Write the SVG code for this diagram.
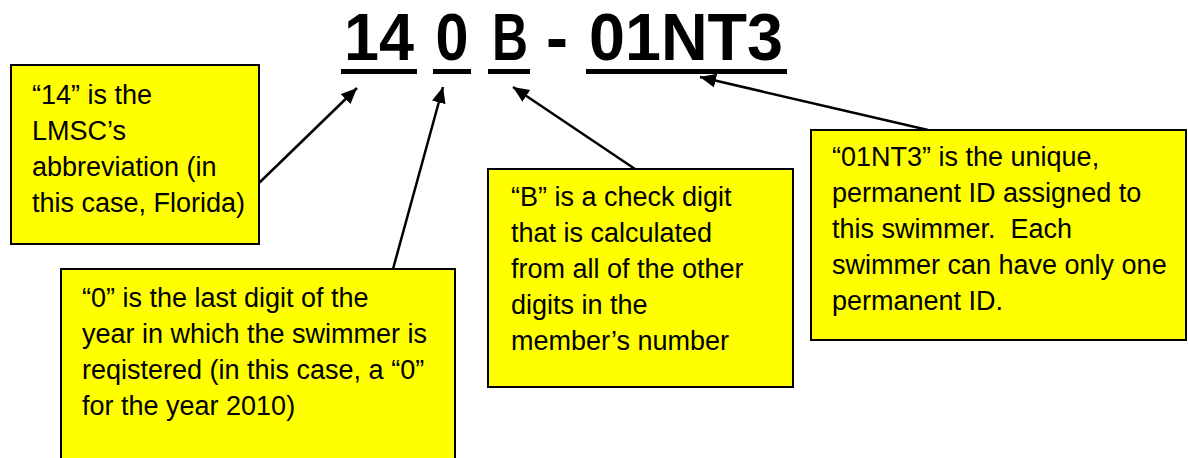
<svg xmlns="http://www.w3.org/2000/svg" width="1188" height="458" viewBox="0 0 1188 458">
  <style>
    .box { fill: #FFFF00; stroke: #000; stroke-width: 2; }
    .t { font-family: "Liberation Sans", Arial, sans-serif; font-size: 27px; fill: #000; white-space: pre; }
    .title { font-family: "Liberation Sans", Arial, sans-serif; font-size: 66px; font-weight: bold; fill: #000; text-anchor: middle; }
    .ul { fill: #000; }
    .conn { stroke: #000; stroke-width: 2.5; fill: none; marker-end: url(#arrow); }
  </style>
  <defs>
    <marker id="arrow" markerUnits="userSpaceOnUse" markerWidth="18" markerHeight="16" refX="16" refY="7" orient="auto">
      <path d="M0,0 L16,7 L0,14 Z" fill="#000"/>
    </marker>
  </defs>
  <rect width="1188" height="458" fill="#fff"/>

  <g id="title">
    <text class="title" x="379" y="60" textLength="70" lengthAdjust="spacingAndGlyphs">14</text>
    <rect class="ul" x="341" y="69" width="76" height="5"/>
    <text class="title" x="452" y="60" textLength="33" lengthAdjust="spacingAndGlyphs">0</text>
    <rect class="ul" x="433" y="69" width="38" height="5"/>
    <text class="title" x="510" y="60" textLength="36" lengthAdjust="spacingAndGlyphs">B</text>
    <rect class="ul" x="488" y="69" width="42" height="5"/>
    <text class="title" x="557" y="60">-</text>
    <text class="title" x="686" y="60" textLength="194" lengthAdjust="spacingAndGlyphs">01NT3</text>
    <rect class="ul" x="586" y="69" width="201" height="5"/>
  </g>

  <g id="connectors">
    <line class="conn" x1="259" y1="183" x2="357" y2="88"/>
    <line class="conn" x1="393" y1="269" x2="443" y2="87"/>
    <line class="conn" x1="635" y1="169" x2="513" y2="87"/>
    <line class="conn" x1="928" y1="130" x2="700" y2="77"/>
  </g>

  <g id="node-14">
    <rect class="box" x="11" y="65" width="248" height="179"/>
    <text class="t" x="32" y="104">“14” is the</text>
    <text class="t" x="32" y="140">LMSC’s</text>
    <text class="t" x="32" y="176">abbreviation (in</text>
    <text class="t" x="32" y="212">this case, Florida)</text>
  </g>

  <g id="node-0">
    <rect class="box" x="61" y="269" width="394" height="210"/>
    <text class="t" x="82" y="307">“0” is the last digit of the</text>
    <text class="t" x="82" y="343">year in which the swimmer is</text>
    <text class="t" x="82" y="379">reqistered (in this case, a “0”</text>
    <text class="t" x="82" y="415">for the year 2010)</text>
  </g>

  <g id="node-B">
    <rect class="box" x="488" y="169" width="305" height="218"/>
    <text class="t" x="511" y="206">“B” is a check digit</text>
    <text class="t" x="511" y="242">that is calculated</text>
    <text class="t" x="511" y="278">from all of the other</text>
    <text class="t" x="511" y="314">digits in the</text>
    <text class="t" x="511" y="350">member’s number</text>
  </g>

  <g id="node-01NT3">
    <rect class="box" x="811" y="130" width="375" height="210"/>
    <text class="t" x="832" y="166">“01NT3” is the unique,</text>
    <text class="t" x="832" y="202">permanent ID assigned to</text>
    <text class="t" x="832" y="238">this swimmer.  Each</text>
    <text class="t" x="832" y="274">swimmer can have only one</text>
    <text class="t" x="832" y="310">permanent ID.</text>
  </g>
</svg>
